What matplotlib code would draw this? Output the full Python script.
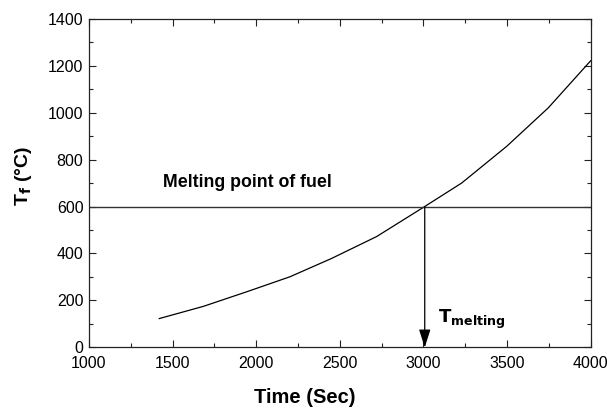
import matplotlib
matplotlib.use("Agg")
import matplotlib.pyplot as plt
from matplotlib.ticker import MultipleLocator

plt.rcParams['font.family'] = ['Liberation Sans', 'DejaVu Sans']

time_s = [1420, 1684, 1943, 2202, 2451, 2720, 3008, 3229, 3498, 3747, 4000]
temp_c = [123, 175, 237, 301, 379, 472, 600, 700, 856, 1020, 1220]
melting_point = 600
melting_time = 3008

fig = plt.figure(figsize=(6.07, 4.12), dpi=100)
ax = fig.add_axes([0.1466, 0.1566, 0.8264, 0.7984])

ax.plot(time_s, temp_c, color='black', lw=0.9)
ax.axhline(melting_point, color='#333333', lw=1.0)
ax.annotate('', xy=(melting_time, 0), xytext=(melting_time, melting_point),
            arrowprops=dict(arrowstyle='-|>,head_length=1.1,head_width=0.35',
                            color='black', lw=0.9, shrinkA=0, shrinkB=0))

ax.text(1443, 685, 'Melting point of fuel', fontsize=12.8, fontweight='bold',
        ha='left', va='baseline')
ax.text(3090, 104, r'$\mathbf{T_{melting}}$', fontsize=13, ha='left', va='baseline')

ax.set_xlim(1000, 4000)
ax.set_ylim(0, 1400)
ax.xaxis.set_major_locator(MultipleLocator(500))
ax.xaxis.set_minor_locator(MultipleLocator(250))
ax.yaxis.set_major_locator(MultipleLocator(200))
ax.yaxis.set_minor_locator(MultipleLocator(100))
ax.tick_params(which='both', direction='in', top=True, right=True,
               labelsize=11.5, width=0.8, color='#222222')
ax.tick_params(which='major', length=5)
ax.tick_params(which='minor', length=3)
ax.tick_params(axis='x', which='major', pad=6)
ax.tick_params(axis='y', which='major', pad=4)
for s in ax.spines.values():
    s.set_linewidth(0.9)
    s.set_color('#222222')

fig.text(254 / 607, 1 - 403 / 412, 'Time (Sec)', fontsize=14.5, fontweight='bold',
         ha='left', va='baseline')
ax.set_ylabel(r'T$_\mathbf{f}$ (°C)', fontsize=14, fontweight='bold', labelpad=10)
ax.yaxis.set_label_coords(-0.11, 0.52)

fig.savefig('out.png', dpi=100)
